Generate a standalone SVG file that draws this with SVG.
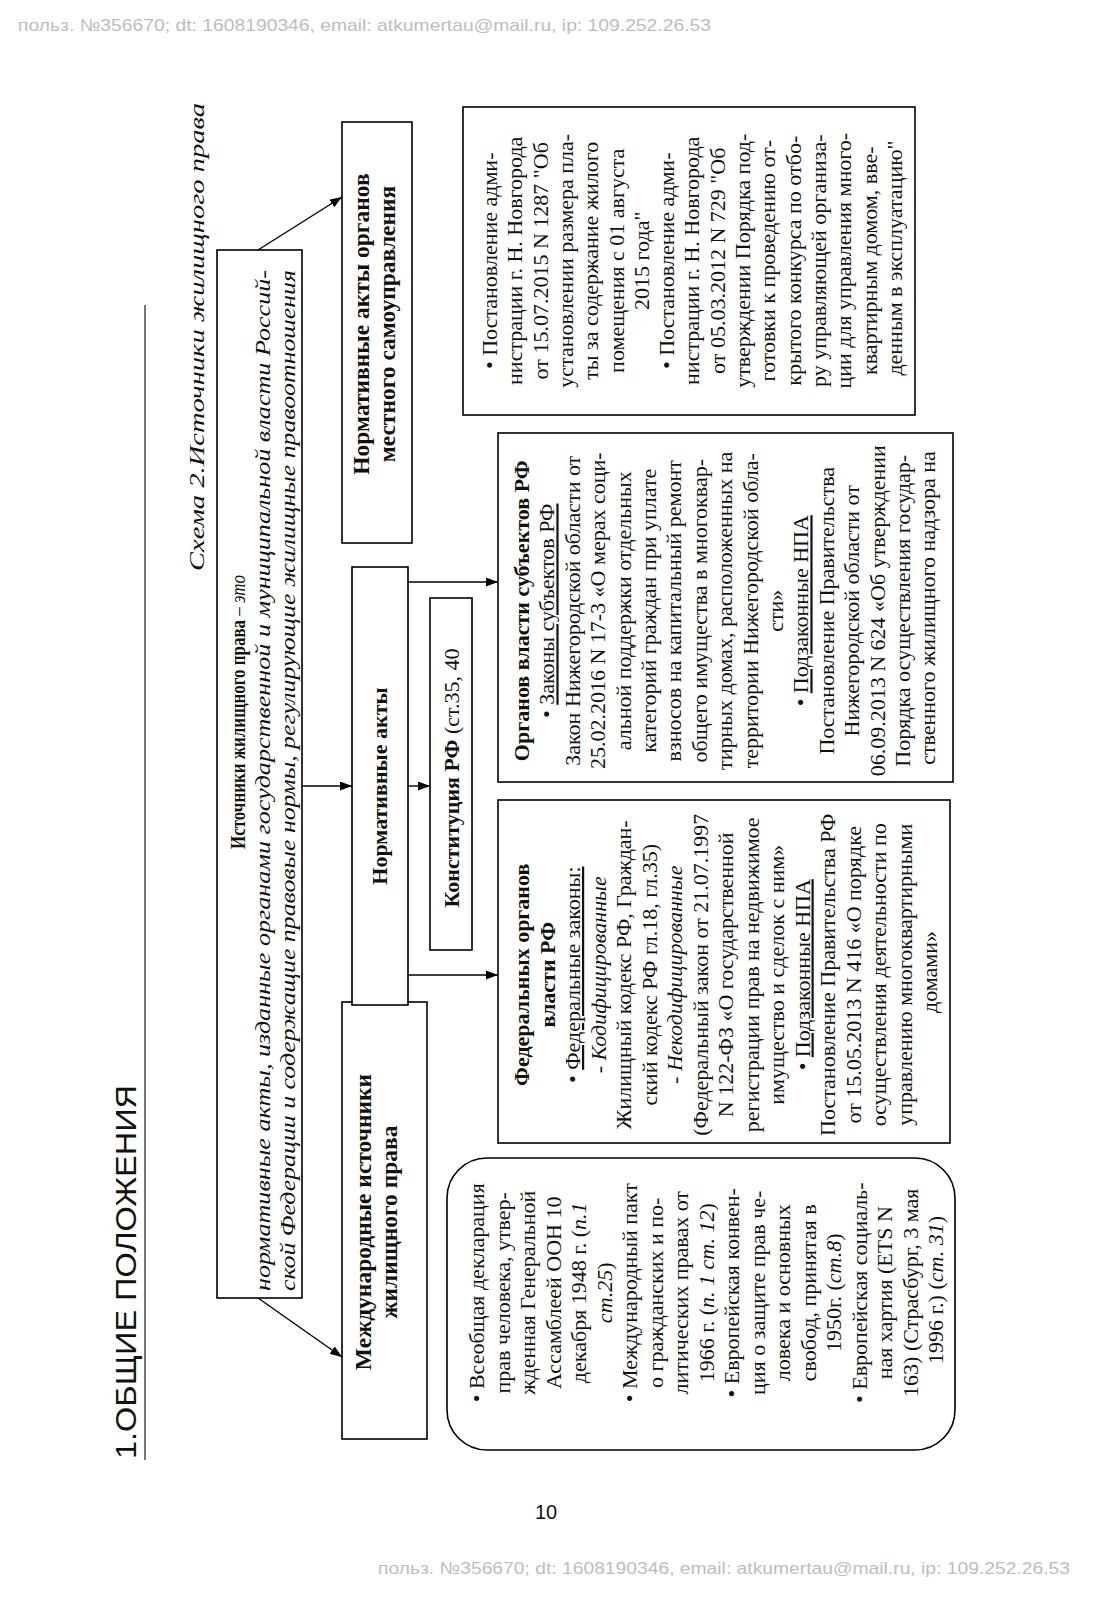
<svg xmlns="http://www.w3.org/2000/svg" width="1093" height="1600" viewBox="0 0 1093 1600">
<defs>
<marker id="arr" markerWidth="12" markerHeight="9" refX="12" refY="4.5" orient="auto" markerUnits="userSpaceOnUse"><path d="M0,0 L12,4.5 L0,9 Z" fill="#000"/></marker>
<style>
.t{font-family:"Liberation Serif","Times New Roman",serif;font-size:22px;fill:#111;text-anchor:middle}
.s{text-anchor:start}
.b{font-weight:bold}
.i{font-style:italic}
.u{text-decoration:underline}
.h{font-size:23.5px}
.box{fill:#fff;stroke:#000;stroke-width:1.6}
.wm{font-family:"Liberation Sans",Arial,sans-serif;font-size:17px;fill:#bdbdbd}
.c{stroke:#000;stroke-width:1.4;fill:none}
</style>
</defs>
<rect width="1093" height="1600" fill="#fff"/>
<text class="wm" x="18" y="31" textLength="693" lengthAdjust="spacingAndGlyphs">польз. №356670; dt: 1608190346, email: atkumertau@mail.ru, ip: 109.252.26.53</text>
<text class="wm" x="378" y="1574" textLength="692" lengthAdjust="spacingAndGlyphs">польз. №356670; dt: 1608190346, email: atkumertau@mail.ru, ip: 109.252.26.53</text>
<text x="546" y="1519" font-family="Liberation Sans, Arial, sans-serif" font-size="20" text-anchor="middle" fill="#111">10</text>

<g transform="translate(0,1600) rotate(-90)">
  <g id="heading">
    <text x="141" y="136" font-family="Liberation Sans, Arial, sans-serif" font-size="30" fill="#111" textLength="374" lengthAdjust="spacingAndGlyphs">1.ОБЩИЕ ПОЛОЖЕНИЯ</text>
    <line x1="140" y1="145" x2="1295" y2="145" stroke="#777" stroke-width="2"/>
    <text class="t i s" x="1029" y="204" font-size="28" textLength="468" lengthAdjust="spacingAndGlyphs">Схема 2.Источники жилищного права</text>
  </g>

  <g id="connectors">
    <path class="c" d="M1350,258 L1403,342" marker-end="url(#arr)"/>
    <path class="c" d="M302,258 L243,342" marker-end="url(#arr)"/>
    <path class="c" d="M814,302 L814,352" marker-end="url(#arr)"/>
    <path class="c" d="M814,408 L814,430" marker-end="url(#arr)"/>
    <path class="c" d="M1018,408 L1018,498" marker-end="url(#arr)"/>
    <path class="c" d="M625,408 L625,498" marker-end="url(#arr)"/>
  </g>

  <g id="n-main">
    <rect class="box" x="302" y="217" width="1048" height="85"/>
    <text class="t s" x="751" y="245" font-size="23" textLength="274" lengthAdjust="spacingAndGlyphs"><tspan class="b">Источники жилищного права</tspan> – <tspan class="i">это</tspan></text>
    <text class="t s i" x="309" y="270" font-size="22" textLength="1021" lengthAdjust="spacingAndGlyphs">нормативные акты, изданные органами государственной и муниципальной власти Россий-</text>
    <text class="t s i" x="309" y="295" font-size="22" textLength="1021" lengthAdjust="spacingAndGlyphs">ской Федерации и содержащие правовые нормы, регулирующие жилищные правоотношения</text>
  </g>

  <g id="n-local">
    <rect class="box" x="1057" y="342" width="421" height="70"/>
    <text class="t b h" x="1276" y="369">Нормативные акты органов</text>
    <text class="t b h" x="1276" y="395">местного самоуправления</text>
  </g>

  <g id="n-intl">
    <rect class="box" x="161" y="342" width="437" height="85"/>
    <text class="t b h" x="378" y="371">Международные источники</text>
    <text class="t b h" x="378" y="397">жилищного права</text>
  </g>

  <g id="n-norm">
    <rect class="box" x="595" y="352" width="438" height="56"/>
    <text class="t b" x="814" y="387">Нормативные акты</text>
  </g>

  <g id="n-const">
    <rect class="box" x="650" y="430" width="352" height="42"/>
    <text class="t" x="822" y="459" font-size="24"><tspan class="b">Конституция РФ</tspan> (ст.35, 40</text>
  </g>

  <g id="n-subj">
    <rect class="box" x="818" y="498" width="349" height="455"/>
    <text class="t" x="992" y="529">
      <tspan x="992" dy="0" class="b">Органов власти субъектов РФ</tspan>
      <tspan x="992" dy="25.4">•  <tspan class="u">Законы субъектов РФ</tspan></tspan>
      <tspan x="992" dy="25.4">Закон Нижегородской области от</tspan>
      <tspan x="992" dy="25.4">25.02.2016 N 17-3 «О мерах соци-</tspan>
      <tspan x="992" dy="25.4">альной поддержки отдельных</tspan>
      <tspan x="992" dy="25.4">категорий граждан при уплате</tspan>
      <tspan x="992" dy="25.4">взносов на капитальный ремонт</tspan>
      <tspan x="992" dy="25.4">общего имущества в многоквар-</tspan>
      <tspan x="992" dy="25.4">тирных домах, расположенных на</tspan>
      <tspan x="992" dy="25.4">территории Нижегородской обла-</tspan>
      <tspan x="992" dy="25.4">сти»</tspan>
      <tspan x="992" dy="25.4">•  <tspan class="u">Подзаконные НПА</tspan></tspan>
      <tspan x="992" dy="25.4">Постановление Правительства</tspan>
      <tspan x="992" dy="25.4">Нижегородской области от</tspan>
      <tspan x="992" dy="25.4">06.09.2013 N 624 «Об утверждении</tspan>
      <tspan x="992" dy="25.4">Порядка осуществления государ-</tspan>
      <tspan x="992" dy="25.4">ственного жилищного надзора на</tspan>
    </text>
  </g>

  <g id="n-fed">
    <rect class="box" x="457" y="498" width="343" height="452"/>
    <text class="t" x="628" y="529">
      <tspan x="628" dy="0" class="b">Федеральных органов</tspan>
      <tspan x="628" dy="25.5" class="b">власти РФ</tspan>
      <tspan x="628" dy="25.5">•  <tspan class="u">Федеральные законы:</tspan></tspan>
      <tspan x="628" dy="25.5" class="i">- Кодифицированные</tspan>
      <tspan x="628" dy="25.5">Жилищный кодекс РФ, Граждан-</tspan>
      <tspan x="628" dy="25.5">ский кодекс РФ гл.18, гл.35)</tspan>
      <tspan x="628" dy="25.5" class="i">- Некодифицированные</tspan>
      <tspan x="628" dy="25.5">(Федеральный закон от 21.07.1997</tspan>
      <tspan x="628" dy="25.5">N 122-ФЗ «О государственной</tspan>
      <tspan x="628" dy="25.5">регистрации прав на недвижимое</tspan>
      <tspan x="628" dy="25.5">имущество и сделок с ним»</tspan>
      <tspan x="628" dy="25.5">•  <tspan class="u">Подзаконные НПА</tspan></tspan>
      <tspan x="628" dy="25.5">Постановление Правительства РФ</tspan>
      <tspan x="628" dy="25.5">от 15.05.2013 N 416 «О порядке</tspan>
      <tspan x="628" dy="25.5">осуществления деятельности по</tspan>
      <tspan x="628" dy="25.5">управлению многоквартирными</tspan>
      <tspan x="628" dy="25.5">домами»</tspan>
    </text>
  </g>

  <g id="n-local-list">
    <rect class="box" x="1185" y="463" width="308" height="452"/>
    <text class="t" x="1342" y="497">
      <tspan x="1342" dy="0">•  Постановление адми-</tspan>
      <tspan x="1342" dy="25.3">нистрации г. Н. Новгорода</tspan>
      <tspan x="1342" dy="25.3">от 15.07.2015 N 1287 "Об</tspan>
      <tspan x="1342" dy="25.3">установлении размера пла-</tspan>
      <tspan x="1342" dy="25.3">ты за содержание жилого</tspan>
      <tspan x="1342" dy="25.3">помещения с 01 августа</tspan>
      <tspan x="1342" dy="25.3">2015 года"</tspan>
      <tspan x="1342" dy="25.3">•  Постановление адми-</tspan>
      <tspan x="1342" dy="25.3">нистрации г. Н. Новгорода</tspan>
      <tspan x="1342" dy="25.3">от 05.03.2012 N 729 "Об</tspan>
      <tspan x="1342" dy="25.3">утверждении Порядка под-</tspan>
      <tspan x="1342" dy="25.3">готовки к проведению от-</tspan>
      <tspan x="1342" dy="25.3">крытого конкурса по отбо-</tspan>
      <tspan x="1342" dy="25.3">ру управляющей организа-</tspan>
      <tspan x="1342" dy="25.3">ции для управления много-</tspan>
      <tspan x="1342" dy="25.3">квартирным домом, вве-</tspan>
      <tspan x="1342" dy="25.3">денным в эксплуатацию"</tspan>
    </text>
  </g>

  <g id="n-intl-list">
    <rect class="box" x="150" y="447" width="292" height="508" rx="40" ry="40" stroke-width="2"/>
    <text class="t" x="310" y="484">
      <tspan x="310" dy="0">•  Всеобщая декларация</tspan>
      <tspan x="310" dy="25.5">прав человека, утвер-</tspan>
      <tspan x="310" dy="25.5">жденная Генеральной</tspan>
      <tspan x="310" dy="25.5">Ассамблеей ООН 10</tspan>
      <tspan x="310" dy="25.5">декабря 1948 г. (<tspan class="i">п.1</tspan></tspan>
      <tspan x="310" dy="25.5"><tspan class="i">ст.25</tspan>)</tspan>
      <tspan x="310" dy="25.5">•  Международный пакт</tspan>
      <tspan x="310" dy="25.5">о гражданских и по-</tspan>
      <tspan x="310" dy="25.5">литических правах от</tspan>
      <tspan x="310" dy="25.5">1966 г. (<tspan class="i">п. 1 ст. 12</tspan>)</tspan>
      <tspan x="310" dy="25.5">•  Европейская конвен-</tspan>
      <tspan x="310" dy="25.5">ция о защите прав че-</tspan>
      <tspan x="310" dy="25.5">ловека и основных</tspan>
      <tspan x="310" dy="25.5">свобод, принятая в</tspan>
      <tspan x="310" dy="25.5">1950г. (<tspan class="i">ст.8</tspan>)</tspan>
      <tspan x="310" dy="25.5">•  Европейская социаль-</tspan>
      <tspan x="310" dy="25.5">ная хартия (ETS N</tspan>
      <tspan x="310" dy="25.5">163) (Страсбург, 3 мая</tspan>
      <tspan x="310" dy="25.5">1996 г.) (<tspan class="i">ст. 31</tspan>)</tspan>
    </text>
  </g>
</g>
</svg>
